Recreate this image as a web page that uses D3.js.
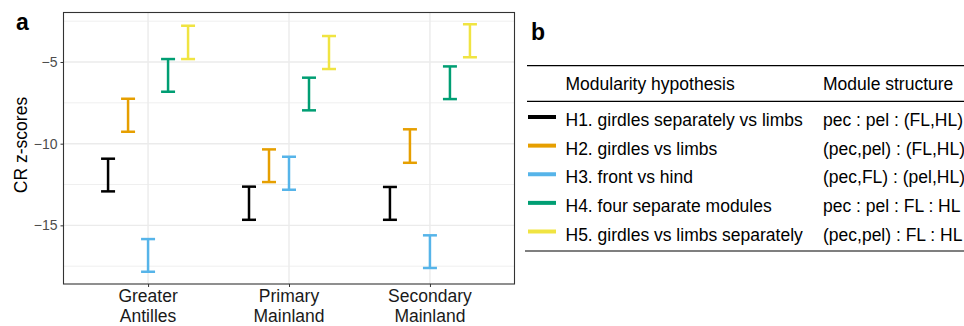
<!DOCTYPE html>
<html>
<head>
<meta charset="utf-8">
<script src="https://cdn.jsdelivr.net/npm/d3@7"></script>
<style>
  body { margin: 0; background: #fff; }
  svg { font-family: "Liberation Sans", Arial, sans-serif; }
</style>
</head>
<body>
<script>
// data
var regions = ["Greater Antilles", "Primary Mainland", "Secondary Mainland"];
var hypotheses = ["H1", "H2", "H3", "H4", "H5"];
var colors = ["#000000", "#E69F00", "#56B4E9", "#009E73", "#F0E442"];
// lower / upper ends of each interval, one row per region, one entry per hypothesis
var lower = [
  [-12.92, -9.27, -17.84, -6.82, -4.82],
  [-14.66, -12.35, -12.82, -7.96, -5.43],
  [-14.66, -11.17, -17.61, -7.27, -4.71]
];
var upper = [
  [-10.92, -7.25, -15.84, -4.82, -2.78],
  [-12.63, -10.35, -10.80, -5.96, -3.41],
  [-12.65, -9.12, -15.61, -5.27, -2.69]
];
var yTicks = [-15, -10, -5];
var yMinor = [-17.5, -12.5, -7.5, -2.5];
var tableHeader = ["Modularity hypothesis", "Module structure"];
var hypNames = [
  "H1. girdles separately vs limbs",
  "H2. girdles vs limbs",
  "H3. front vs hind",
  "H4. four separate modules",
  "H5. girdles vs limbs separately"
];
var structures = [
  "pec : pel : (FL,HL)",
  "(pec,pel) : (FL,HL)",
  "(pec,FL) : (pel,HL)",
  "pec : pel : FL : HL",
  "(pec,pel) : FL : HL"
];

var svg = d3.select("body").append("svg")
  .attr("width", 964)
  .attr("height", 326);

// panel a
var pLeft = 63.5, pRight = 514.5, pTop = 12.5, pBottom = 284;

var x = d3.scalePoint().domain(regions).range([pLeft, pRight]).padding(0.6);
var dodge = d3.scaleBand().domain(hypotheses).range([-50, 50]);
var y = d3.scaleLinear().domain([-18.59, -1.97]).range([pBottom, pTop]);
var color = d3.scaleOrdinal().domain(hypotheses).range(colors);

svg.append("text")
  .attr("x", 16).attr("y", 30)
  .style("font-size", "23px").style("font-weight", "bold")
  .text("a");

var grid = svg.append("g");
grid.selectAll(".minor").data(yMinor).enter().append("line")
  .attr("x1", pLeft).attr("x2", pRight)
  .attr("y1", d => y(d)).attr("y2", d => y(d))
  .attr("stroke", "#ebebeb").attr("stroke-width", 0.8);
grid.selectAll(".major").data(yTicks).enter().append("line")
  .attr("x1", pLeft).attr("x2", pRight)
  .attr("y1", d => y(d)).attr("y2", d => y(d))
  .attr("stroke", "#ebebeb").attr("stroke-width", 1.4);
grid.selectAll(".vmajor").data(regions).enter().append("line")
  .attr("x1", d => x(d)).attr("x2", d => x(d))
  .attr("y1", pTop).attr("y2", pBottom)
  .attr("stroke", "#ebebeb").attr("stroke-width", 1.4);

// error bars
var bars = [];
regions.forEach(function(r, i) {
  hypotheses.forEach(function(h, j) {
    bars.push({ region: r, hyp: h, lo: lower[i][j], hi: upper[i][j] });
  });
});
var capW = 7;
var eb = svg.append("g").selectAll("g").data(bars).enter().append("g")
  .attr("transform", d => "translate(" + (x(d.region) + dodge(d.hyp) + dodge.bandwidth() / 2) + ",0)")
  .attr("stroke", d => color(d.hyp))
  .attr("stroke-width", 2.5)
  .attr("fill", "none");
eb.append("line").attr("x1", 0).attr("x2", 0).attr("y1", d => y(d.hi)).attr("y2", d => y(d.lo));
eb.append("line").attr("x1", -capW).attr("x2", capW).attr("y1", d => y(d.hi)).attr("y2", d => y(d.hi));
eb.append("line").attr("x1", -capW).attr("x2", capW).attr("y1", d => y(d.lo)).attr("y2", d => y(d.lo));

// panel border
svg.append("rect")
  .attr("x", pLeft).attr("y", pTop)
  .attr("width", pRight - pLeft).attr("height", pBottom - pTop)
  .attr("fill", "none").attr("stroke", "#333333").attr("stroke-width", 1.1);

// axes
var yAxis = svg.append("g")
  .attr("transform", "translate(" + pLeft + ",0)")
  .call(d3.axisLeft(y).tickValues(yTicks).tickSize(3).tickPadding(3));
yAxis.select(".domain").remove();
yAxis.selectAll(".tick line").attr("stroke", "#333333");
yAxis.selectAll(".tick text").attr("fill", "#4d4d4d").style("font-size", "14px")
  .style("font-family", "Liberation Sans, Arial, sans-serif");

var xAxis = svg.append("g")
  .attr("transform", "translate(0," + pBottom + ")")
  .call(d3.axisBottom(x).tickSize(3).tickFormat(""));
xAxis.select(".domain").remove();
xAxis.selectAll(".tick line").attr("stroke", "#333333");

svg.append("g").selectAll("text").data(regions).enter().append("text")
  .attr("x", d => x(d))
  .attr("text-anchor", "middle")
  .style("font-size", "17.5px")
  .attr("fill", "#1a1a1a")
  .each(function(d) {
    var parts = d.split(" ");
    d3.select(this).selectAll("tspan").data(parts).enter().append("tspan")
      .attr("x", x(d))
      .attr("y", (p, k) => 302 + k * 20)
      .text(p => p);
  });

svg.append("text")
  .attr("transform", "translate(27,145) rotate(-90)")
  .attr("text-anchor", "middle")
  .style("font-size", "17.5px")
  .text("CR z-scores");

// panel b: table
svg.append("text")
  .attr("x", 531).attr("y", 40)
  .style("font-size", "23px").style("font-weight", "bold")
  .text("b");

var tbl = svg.append("g").style("font-size", "17.5px");
[65.7, 101.3].forEach(function(yy) {
  tbl.append("line").attr("x1", 527).attr("x2", 964).attr("y1", yy).attr("y2", yy)
    .attr("stroke", "#000").attr("stroke-width", 1.2);
});
tbl.append("line").attr("x1", 525).attr("x2", 964).attr("y1", 251).attr("y2", 251)
  .attr("stroke", "#000").attr("stroke-width", 1.2);

tbl.append("text").attr("x", 565.5).attr("y", 90).text(tableHeader[0]);
tbl.append("text").attr("x", 823).attr("y", 90).text(tableHeader[1]);

var rowY = d3.scalePoint().domain(hypotheses).range([126, 240.5]);
var rows = tbl.selectAll(".row").data(hypotheses).enter().append("g");
rows.append("line")
  .attr("x1", 528).attr("x2", 556)
  .attr("y1", d => rowY(d) - 9).attr("y2", d => rowY(d) - 9)
  .attr("stroke", d => color(d)).attr("stroke-width", 4);
rows.append("text").attr("x", 565.5).attr("y", d => rowY(d))
  .text((d, i) => hypNames[i]);
rows.append("text").attr("x", 823).attr("y", d => rowY(d))
  .text((d, i) => structures[i]);
</script>
</body>
</html>
